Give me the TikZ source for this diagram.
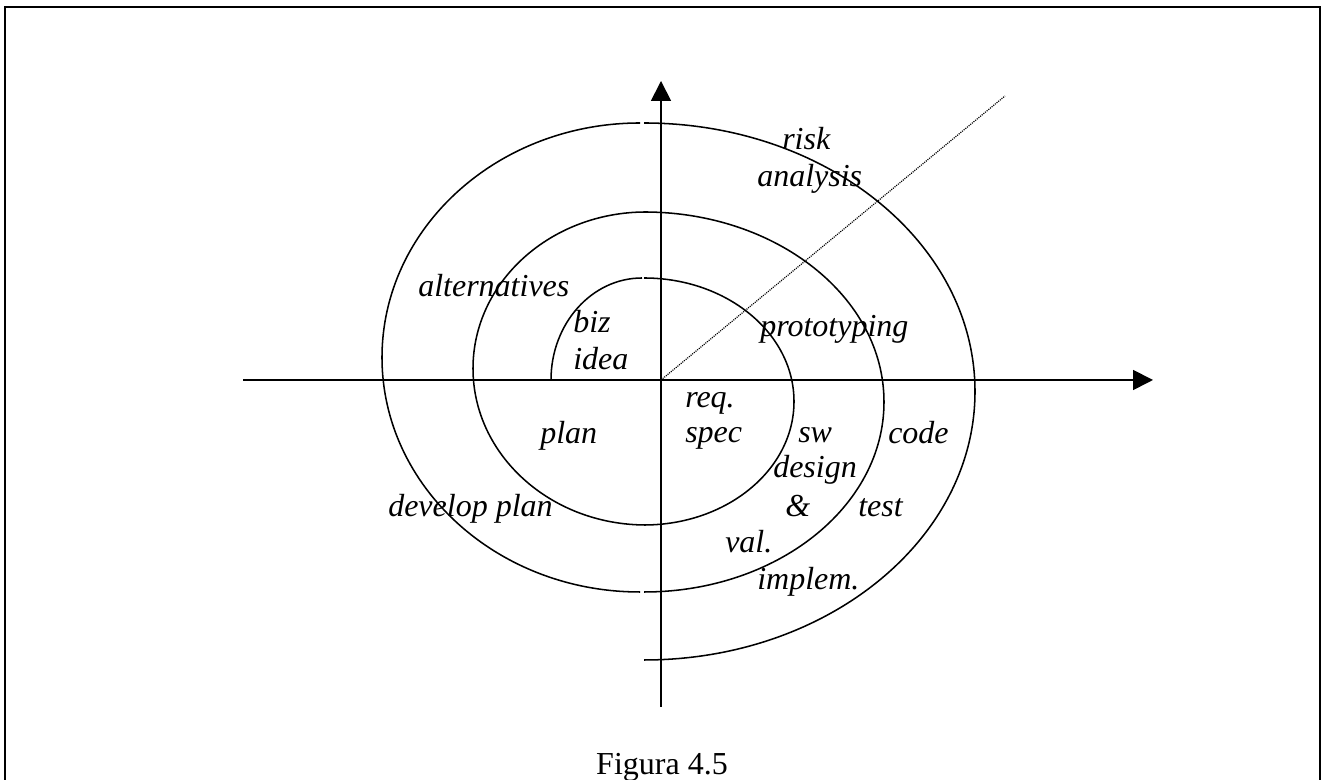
\documentclass[tikz,border=0pt]{standalone}
\usepackage{fontspec}
\setmainfont{Liberation Serif}
\usetikzlibrary{arrows.meta}

\begin{document}
\begin{tikzpicture}[x=0.75pt,y=0.75pt,
  lbl/.style={font=\fontsize{24}{28}\selectfont\itshape, inner sep=0pt, anchor=base west},
  caption/.style={font=\fontsize{24}{28}\selectfont, inner sep=0pt, anchor=base},
  spiral/.style={line width=1.15pt},
  axis/.style={line width=1.3pt, -{Triangle[length=15pt,width=15pt]}},
  dotline/.style={line width=0.9pt, dash pattern=on 0.8pt off 0.8pt},
  frame/.style={line width=2.2pt}
]
\clip (0,0) rectangle (1322,780);
\useasboundingbox (0,0) rectangle (1322,780);

% outer frame (open at the bottom edge)
\draw[frame] (5,-20) rectangle (1320,773);

% axes
\coordinate (O)  at (661,400);
\coordinate (xl) at (243,400);
\coordinate (xr) at (1153,400);
\coordinate (yb) at (661,73);
\coordinate (yt) at (661,699);
\coordinate (dd) at (1005,684);
\draw[axis] (xl) -- (xr);
\draw[axis] (yb) -- (yt);
\draw[dotline] (O) -- (dd);

% spiral made of half ellipses
\coordinate (s0) at (551,400);
\coordinate (s1) at (644,502);
\coordinate (s2) at (646,255);
\coordinate (s3) at (644,568);
\coordinate (s4) at (640,188);
\coordinate (s5) at (644,657);
\draw[spiral] (s0) arc[start angle=180, end angle=90, x radius=91, y radius=102];
\draw[spiral] (s1) arc[start angle=90, end angle=-90, x radius=150, y radius=123.5];
\draw[spiral] (s2) arc[start angle=270, end angle=90, x radius=173, y radius=156.5];
\draw[spiral] (s3) arc[start angle=90, end angle=-90, x radius=240, y radius=190];
\draw[spiral] (s4) arc[start angle=270, end angle=90, x radius=258, y radius=234.5];
\draw[spiral] (s5) arc[start angle=90, end angle=-90, x radius=331, y radius=268.5];

% labels
\node[lbl] (risk)  at (782,630) {risk};
\node[lbl] (anal)  at (757,593) {analysis};
\node[lbl] (alt)   at (418,483) {alternatives};
\node[lbl] (biz)   at (573,447) {biz};
\node[lbl] (idea)  at (573,410) {idea};
\node[lbl] (proto) at (760,443) {prototyping};
\node[lbl] (req)   at (685,372) {req.};
\node[lbl] (spec)  at (685,337) {spec};
\node[lbl] (plan)  at (540,336) {plan};
\node[lbl] (sw)    at (798,337) {sw};
\node[lbl] (des)   at (773,302) {design};
\node[lbl] (amp)   at (785,263) {\&};
\node[lbl] (val)   at (725,227) {val.};
\node[lbl] (code)  at (888,336) {code};
\node[lbl] (test)  at (858,263) {test};
\node[lbl] (impl)  at (757,190) {implem.};
\node[lbl] (dev)   at (388,263) {develop plan};

\node[caption] (fig) at (662,5) {Figura 4.5};
\end{tikzpicture}
\end{document}
